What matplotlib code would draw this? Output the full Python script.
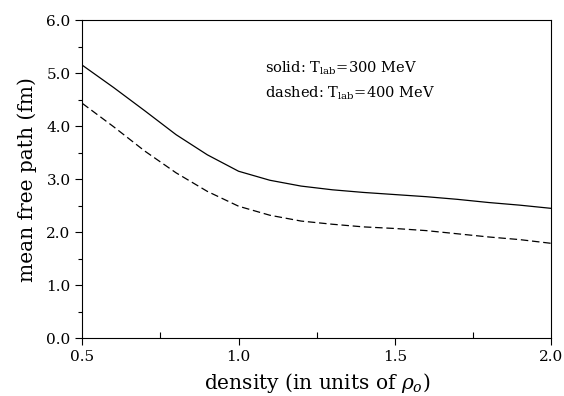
import matplotlib
matplotlib.use('Agg')
import matplotlib.pyplot as plt
from matplotlib.ticker import MultipleLocator, FormatStrFormatter

plt.rcParams['font.family'] = ['DejaVu Serif']
plt.rcParams['mathtext.fontset'] = 'dejavuserif'

# density in units of rho_0
density = [0.5, 0.6, 0.7, 0.8, 0.9, 1.0, 1.1, 1.2, 1.3, 1.4, 1.5, 1.6, 1.7, 1.8, 1.9, 2.0]
# mean free path (fm)
mfp_300 = [5.15, 4.73, 4.29, 3.84, 3.46, 3.15, 2.98, 2.87, 2.80, 2.75, 2.71, 2.67, 2.62, 2.56, 2.51, 2.45]
mfp_400 = [4.43, 3.99, 3.53, 3.12, 2.77, 2.49, 2.32, 2.21, 2.15, 2.10, 2.07, 2.03, 1.97, 1.91, 1.86, 1.79]

fig = plt.figure(figsize=(5.64, 3.96), dpi=100)
ax = fig.add_axes([0.146, 0.146, 0.831, 0.803])

ax.plot(density, mfp_300, color='black', linewidth=0.9)
ax.plot(density, mfp_400, color='black', linewidth=0.9, linestyle=(0, (6, 3)))

ax.set_xlim(0.5, 2.0)
ax.set_ylim(0.0, 6.0)
ax.xaxis.set_major_locator(MultipleLocator(0.5))
ax.xaxis.set_minor_locator(MultipleLocator(0.25))
ax.yaxis.set_major_locator(MultipleLocator(1.0))
ax.yaxis.set_minor_locator(MultipleLocator(0.5))
ax.xaxis.set_major_formatter(FormatStrFormatter('%.1f'))
ax.yaxis.set_major_formatter(FormatStrFormatter('%.1f'))
ax.tick_params(which='major', direction='out', length=5, width=0.8, labelsize=11)
ax.tick_params(axis='y', which='minor', direction='out', length=3, width=0.8)
ax.tick_params(axis='x', which='minor', direction='in', length=4, width=0.8)

for s in ax.spines.values():
    s.set_linewidth(0.8)

ax.set_xlabel(r'density (in units of $\rho_o$)', fontsize=14.5, labelpad=5)
ax.set_ylabel('mean free path (fm)', fontsize=14.5, labelpad=7)

ax.text(0.39, 0.85, r'solid: T$_{\rm lab}$=300 MeV', transform=ax.transAxes,
        fontsize=10.5, va='center')
ax.text(0.39, 0.77, r'dashed: T$_{\rm lab}$=400 MeV', transform=ax.transAxes,
        fontsize=10.5, va='center')

fig.savefig('out.png', dpi=100)
